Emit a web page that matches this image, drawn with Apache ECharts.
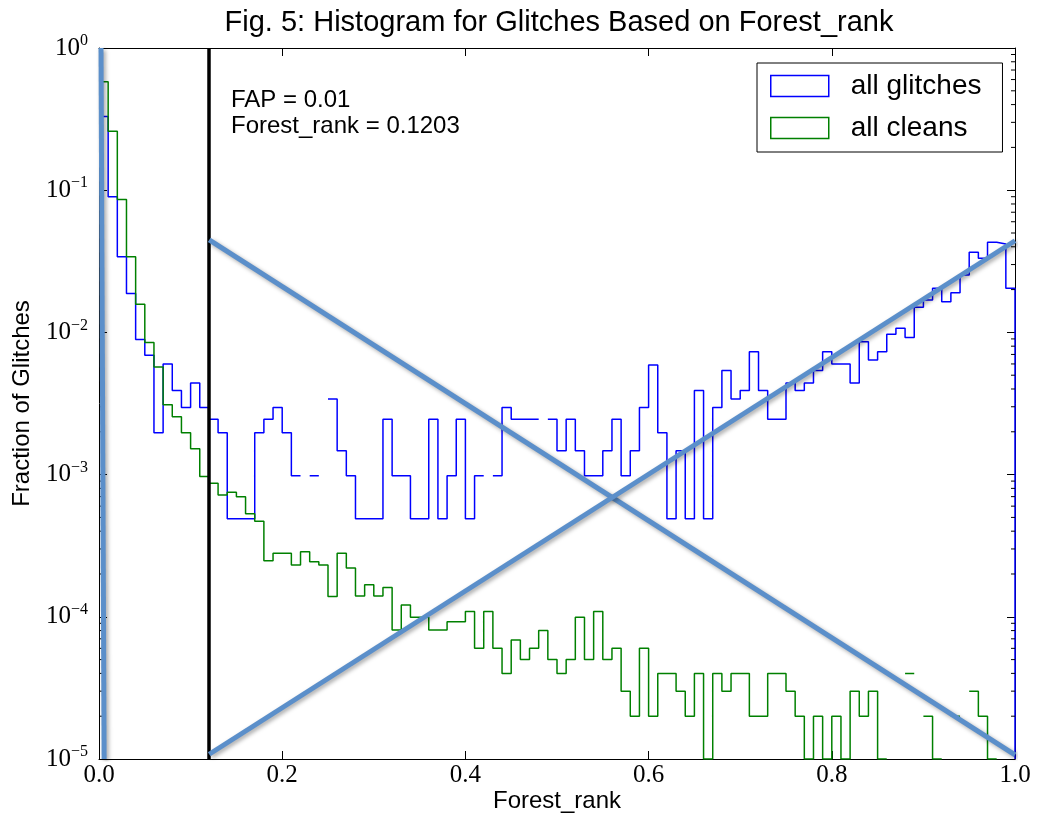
<!DOCTYPE html>
<html>
<head>
<meta charset="utf-8">
<script src="https://cdn.jsdelivr.net/npm/echarts@6/dist/echarts.min.js"></script>
<style>
  html, body { margin: 0; padding: 0; background: #fff; }
  #chart { width: 1043px; height: 813px; }
</style>
</head>
<body>
<div id="chart"></div>
<script>
// ---------------- data ----------------
const chartTitle = 'Fig. 5: Histogram for Glitches Based on Forest_rank';
const xAxisTitle = 'Forest_rank';
const yAxisTitle = 'Fraction of Glitches';
const seriesNames = ['all glitches', 'all cleans'];
const annotationLines = ['FAP = 0.01', 'Forest_rank = 0.1203'];

const binStart = 0.0;
const binWidth = 0.01;

// fraction of glitches per bin (null = empty bin)
const glitchFrac = [
  0.33, 0.090, 0.034, 0.0188, 0.0089, 0.0069, 0.00197, 0.0060, 0.0039, 0.00296,
  0.0044, 0.00296, 0.00245, 0.00197, 0.00049, 0.00049, 0.00049, 0.00197, 0.00245, 0.00296,
  0.00197, 0.00098, null, 0.00098, null, 0.0034, 0.00147, 0.00098, 0.00049, 0.00049,
  0.00049, 0.00245, 0.00098, 0.00098, 0.00049, 0.00049, 0.00245, 0.00049, 0.00098, 0.00245,
  0.00049, 0.00098, null, 0.00098, 0.00296, 0.00245, 0.00245, 0.00245, null, 0.00245,
  0.00147, 0.00245, 0.00147, 0.00098, 0.00098, 0.00147, 0.00245, 0.00098, 0.00147, 0.00296,
  0.0059, 0.00197, 0.00049, 0.00147, 0.00049, 0.0039, 0.00049, 0.00296, 0.0054, 0.0034,
  0.0039, 0.0073, 0.0039, 0.00245, 0.00245, 0.0044, 0.0039, 0.0044, 0.0054, 0.0073,
  0.0060, 0.0060, 0.0044, 0.0086, 0.0064, 0.0073, 0.0097, 0.0107, 0.0092, 0.0150,
  0.0169, 0.0204, 0.0164, 0.0190, 0.0253, 0.0366, 0.0332, 0.0430, 0.0418, 0.0204
];

// fraction of cleans per bin (null = empty bin)
const cleanFrac = [
  0.58, 0.26, 0.086, 0.034, 0.0158, 0.0085, 0.0057, 0.0031, 0.00255, 0.00197,
  0.00152, 0.00097, 0.00087, 0.00072, 0.00075, 0.00070, 0.00053, 0.00047, 0.000248, 0.00028,
  0.00028, 0.000231, 0.000287, 0.000244, 0.000231, 0.000139, 0.00028, 0.00022, 0.00014, 0.000168,
  0.00014, 0.000161, 0.0000807, 0.000121, 0.0000991, 0.0000991, 0.0000807, 0.0000807, 0.0000924, 0.0000924,
  0.000109, 0.00006, 0.000109, 0.00006, 0.00004, 0.0000687, 0.00005, 0.00006, 0.00008, 0.00005,
  0.00004, 0.00005, 0.0000991, 0.00005, 0.000109, 0.00005, 0.00006, 0.00003, 0.00002, 0.00006,
  0.00002, 0.00004, 0.00004, 0.00003, 0.00002, 0.00004, 0.00001, 0.00004, 0.00003, 0.00004,
  0.00004, 0.00002, 0.00002, 0.00004, 0.00004, 0.00003, 0.00002, 0.00001, 0.00002, 0.00001,
  0.00002, 0.00001, 0.00003, 0.00002, 0.00003, 0.00001, null, null, 0.00004, null,
  0.00002, 0.00001, null, 0.00002, null, 0.00003, 0.00002, 0.00001, null, null
];

const fapThreshold = 0.1203;
const yMin = 1e-5;
const yMax = 1;
const xMin = 0;
const xMax = 1;
const xTickStep = 0.2;
const yMinorMultipliers = [2, 3, 4, 5, 6, 7, 8, 9];
const yDecades = [1e-5, 1e-4, 1e-3, 1e-2, 1e-1];

// hand-drawn overlay strokes (data space)
const overlayLeft = [[0.0022, 1.0], [0.0056, 1e-5]];
const overlayDown = [[0.1203, 0.0447], [1.0, 1.07e-5]];
const overlayUp = [[0.1203, 1.08e-5], [1.0, 0.0441]];

// ---------------- build ----------------
function stepPoints(vals) {
  const pts = [];
  for (let i = 0; i < vals.length; i++) {
    const x0 = +(binStart + i * binWidth).toFixed(4);
    const x1 = +(binStart + (i + 1) * binWidth).toFixed(4);
    const v = vals[i];
    if (v == null) {
      pts.push([x0, '-']);
    } else {
      pts.push([x0, v]);
      pts.push([x1, v]);
    }
  }
  const last = vals[vals.length - 1];
  if (last != null) pts.push([+(binStart + vals.length * binWidth).toFixed(4), yMin]);
  return pts;
}

const minorTicks = [];
yDecades.forEach(d => yMinorMultipliers.forEach(m => minorTicks.push([0, d * m])));

const sans = '"Liberation Sans", Arial, Helvetica, sans-serif';
const serif = '"Liberation Serif", "Times New Roman", serif';

function supLabel(v) {
  const e = Math.round(Math.log10(v));
  const s = e < 0 ? '\u2212' + (-e) : String(e);
  return '{b|10}{s|' + s + '}';
}

const overlayStyle = {
  color: '#5b8fca', width: 5,
  shadowColor: 'rgba(0,0,0,0.35)', shadowBlur: 4, shadowOffsetX: 2, shadowOffsetY: 2
};

const chart = echarts.init(document.getElementById('chart'), null, { renderer: 'canvas' });
chart.setOption({
  animation: false,
  backgroundColor: '#fff',
  title: {
    text: chartTitle,
    left: 554, top: 3, textAlign: 'center',
    textStyle: { fontFamily: sans, fontSize: 29, fontWeight: 'normal', color: '#000' }
  },
  grid: { left: 99, top: 48, width: 916, height: 711, containLabel: false, outerBoundsMode: 'none' },
  legend: {
    orient: 'vertical',
    left: 757, top: 63,
    padding: [8, 21, 9, 13],
    itemGap: 12,
    itemWidth: 58, itemHeight: 21,
    backgroundColor: '#fff', borderColor: '#000', borderWidth: 1, borderRadius: 0,
    textStyle: { fontFamily: sans, fontSize: 28, color: '#000', lineHeight: 30, padding: [0, 0, 0, 17] },
    data: [
      { name: seriesNames[0], icon: 'rect', itemStyle: { color: '#fff', borderColor: '#0000ff', borderWidth: 1.5 } },
      { name: seriesNames[1], icon: 'rect', itemStyle: { color: '#fff', borderColor: '#008000', borderWidth: 1.5 } }
    ],
    selectedMode: false
  },
  graphic: [
    { type: 'text', left: 231, top: 88, style: { text: annotationLines[0], font: '24px ' + sans, fill: '#000' } },
    { type: 'text', left: 231, top: 114, style: { text: annotationLines[1], font: '24px ' + sans, fill: '#000' } }
  ],
  xAxis: [
    {
      type: 'value', min: xMin, max: xMax, interval: xTickStep,
      name: xAxisTitle, nameLocation: 'middle', nameGap: 30, nameMoveOverlap: false,
      nameTextStyle: { fontFamily: sans, fontSize: 24, color: '#000', lineHeight: 24 },
      axisLine: { show: true, lineStyle: { color: '#000', width: 1 } },
      axisTick: { show: true, inside: true, length: 8, lineStyle: { color: '#000' } },
      axisLabel: { margin: 4, fontFamily: serif, fontSize: 25, color: '#000', formatter: v => v.toFixed(1) },
      splitLine: { show: false }
    },
    {
      type: 'value', position: 'top', min: xMin, max: xMax, interval: xTickStep,
      axisLine: { show: true, onZero: false, lineStyle: { color: '#000', width: 1 } },
      axisTick: { show: true, inside: true, length: 8, lineStyle: { color: '#000' } },
      axisLabel: { show: false },
      splitLine: { show: false }
    }
  ],
  yAxis: [
    {
      type: 'log', logBase: 10, min: yMin, max: yMax,
      name: yAxisTitle, nameLocation: 'middle', nameGap: 65, nameMoveOverlap: false,
      nameTextStyle: { fontFamily: sans, fontSize: 24, color: '#000' },
      axisLine: { show: true, lineStyle: { color: '#000', width: 1 } },
      axisTick: { show: true, inside: true, length: 8, lineStyle: { color: '#000' } },
      axisLabel: {
        margin: 11, color: '#000', formatter: supLabel,
        rich: {
          b: { fontFamily: serif, fontSize: 25, lineHeight: 30, color: '#000' },
          s: { fontFamily: serif, fontSize: 16, lineHeight: 16, verticalAlign: 'top', color: '#000' }
        }
      },
      splitLine: { show: false }
    },
    {
      type: 'log', logBase: 10, min: yMin, max: yMax, position: 'right',
      axisLine: { show: true, onZero: false, lineStyle: { color: '#000', width: 1 } },
      axisTick: { show: true, inside: true, length: 8, lineStyle: { color: '#000' } },
      axisLabel: { show: false },
      splitLine: { show: false }
    }
  ],
  series: [
    {
      name: seriesNames[0], type: 'line', xAxisIndex: 0, yAxisIndex: 0,
      data: stepPoints(glitchFrac), showSymbol: false, symbol: 'none', connectNulls: false,
      lineStyle: { color: '#0000ff', width: 1.5 }, itemStyle: { color: '#0000ff' }, z: 3,
      markLine: {
        silent: true, symbol: ['none', 'none'], animation: false,
        label: { show: false },
        lineStyle: { color: '#000', width: 3.5, type: 'solid' },
        data: [{ xAxis: fapThreshold }]
      }
    },
    {
      name: seriesNames[1], type: 'line', xAxisIndex: 0, yAxisIndex: 0,
      data: stepPoints(cleanFrac), showSymbol: false, symbol: 'none', connectNulls: false,
      lineStyle: { color: '#008000', width: 1.5 }, itemStyle: { color: '#008000' }, z: 3
    },
    {
      name: 'overlayLeft', type: 'line', data: overlayLeft, showSymbol: false, symbol: 'none',
      lineStyle: overlayStyle, z: 5, silent: true
    },
    {
      name: 'overlayDown', type: 'line', data: overlayDown, showSymbol: false, symbol: 'none',
      lineStyle: overlayStyle, z: 5, silent: true
    },
    {
      name: 'overlayUp', type: 'line', data: overlayUp, showSymbol: false, symbol: 'none',
      lineStyle: overlayStyle, z: 5, silent: true
    },
    {
      name: 'minorTicks', type: 'custom', xAxisIndex: 0, yAxisIndex: 0, silent: true, z: 4,
      data: minorTicks,
      renderItem: function (params, api) {
        const v = api.value(1);
        const pl = api.coord([xMin, v]);
        const pr = api.coord([xMax, v]);
        return {
          type: 'group',
          children: [
            { type: 'line', shape: { x1: pl[0], y1: pl[1], x2: pl[0] + 4, y2: pl[1] }, style: { stroke: '#000', lineWidth: 1 } },
            { type: 'line', shape: { x1: pr[0] - 4, y1: pr[1], x2: pr[0], y2: pr[1] }, style: { stroke: '#000', lineWidth: 1 } }
          ]
        };
      }
    }
  ]
});
</script>
</body>
</html>
